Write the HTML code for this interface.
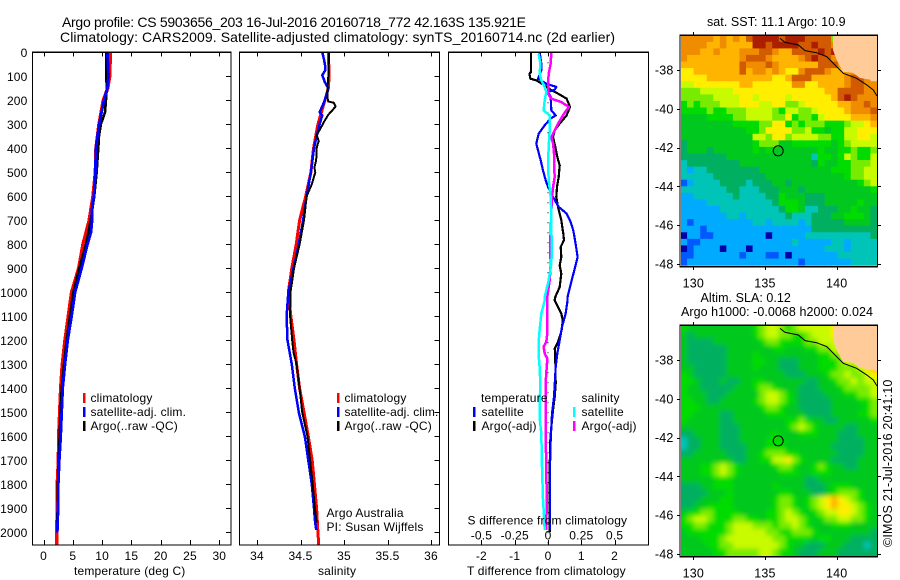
<!DOCTYPE html>
<html lang="en">
<head>
<meta charset="utf-8">
<title>Argo profile CS 5903656_203</title>
<style>
html,body{margin:0;padding:0;background:#fff;width:900px;height:580px;overflow:hidden}
svg{display:block;position:absolute;left:0;top:0}
text{font-family:"Liberation Sans",sans-serif;font-size:12px;fill:#000;letter-spacing:.18px}
.title{font-size:14px;letter-spacing:0}
.maptitle{font-size:12.5px;letter-spacing:.05px}
.frame{fill:none;stroke:#000;stroke-width:1.3;shape-rendering:crispEdges}
.tick{stroke:#000;stroke-width:1;shape-rendering:crispEdges}
.curve{fill:none;shape-rendering:crispEdges;stroke-linejoin:round}
.leg{shape-rendering:crispEdges}
</style>
</head>
<body>
<svg id="fig" width="900" height="580" viewBox="0 0 900 580" xmlns="http://www.w3.org/2000/svg">
  <rect x="0" y="0" width="900" height="580" fill="#fff"/>
  <text class="title" x="62" y="27" textLength="464" lengthAdjust="spacing">Argo profile: CS 5903656_203 16-Jul-2016 20160718_772 42.163S 135.921E</text>
  <text class="title" x="60" y="42" textLength="555" lengthAdjust="spacing">Climatology: CARS2009. Satellite-adjusted climatology: synTS_20160714.nc (2d earlier)</text>

  <g id="p1"></g>
  <g id="p2"></g>
  <g id="p3"></g>

  <text x="74" y="575">temperature (deg C)</text>
  <text x="318" y="575">salinity</text>
  <text x="467" y="575">T difference from climatology</text>
  <text x="467.5" y="524.5">S difference from climatology</text>

  <rect class="leg" x="83" y="393" width="2.5" height="10" fill="#f00"/>
  <text x="90.5" y="402">climatology</text>
  <rect class="leg" x="83" y="407" width="2.5" height="10" fill="#00f"/>
  <text x="90.5" y="416">satellite-adj. clim.</text>
  <rect class="leg" x="83" y="421" width="2.5" height="10" fill="#000"/>
  <text x="90.5" y="430">Argo(..raw -QC)</text>

  <rect class="leg" x="337" y="393" width="2.5" height="10" fill="#f00"/>
  <text x="344.5" y="402">climatology</text>
  <rect class="leg" x="337" y="407" width="2.5" height="10" fill="#00f"/>
  <text x="344.5" y="416" textLength="94" lengthAdjust="spacing">satellite-adj. clim.</text>
  <rect class="leg" x="337" y="421" width="2.5" height="10" fill="#000"/>
  <text x="344.5" y="430">Argo(..raw -QC)</text>

  <text x="326.5" y="517">Argo Australia</text>
  <text x="326.5" y="531">PI: Susan Wijffels</text>

  <text x="481" y="402">temperature</text>
  <rect class="leg" x="473" y="407" width="2.5" height="10" fill="#00f"/>
  <text x="481.5" y="416">satellite</text>
  <rect class="leg" x="473" y="421" width="2.5" height="10" fill="#000"/>
  <text x="481.5" y="430">Argo(-adj)</text>
  <text x="581.5" y="402">salinity</text>
  <rect class="leg" x="573" y="407" width="2.5" height="10" fill="#0ff"/>
  <text x="581.5" y="416">satellite</text>
  <rect class="leg" x="573" y="421" width="2.5" height="10" fill="#f0f"/>
  <text x="581.5" y="430">Argo(-adj)</text>

  <text class="maptitle" x="707" y="26">sat. SST: 11.1 Argo: 10.9</text>
  <text class="maptitle" x="700.5" y="302">Altim. SLA: 0.12</text>
  <text class="maptitle" x="681" y="316">Argo h1000: -0.0068 h2000: 0.024</text>

  <defs>
    <clipPath id="clipA"><rect x="681" y="36" width="196" height="230"/></clipPath>
    <clipPath id="clipB"><rect x="681" y="326" width="196" height="230"/></clipPath>
    <filter id="soft" x="-5%" y="-5%" width="110%" height="110%"><feGaussianBlur stdDeviation="2.4"/></filter>
  </defs>
  <g id="mapA"></g>
  <g id="mapB"></g>

  <text transform="translate(892,547) rotate(-90)" style="font-size:12.5px">©IMOS 21-Jul-2016 20:41:10</text>
</svg>
<script>
// ---------- profile data ----------
const depthTicks = [0,100,200,300,400,500,600,700,800,900,1000,1100,1200,1300,1400,1500,1600,1700,1800,1900,2000];
const tempTicks = [0,5,10,15,20,25,30];
const salTicks = [34,34.5,35,35.5,36];
const salTickLabels = ['34','34.5','35','35.5','36'];
const diffTicks = [-2,-1,0,1,2];
const diffTickLabels = ['-2','-1','0','1','2'];
const sDiffLabels = ['-0.5','-0.25','0','0.25','0.5'];

const tempClimDepth = [0,100,150,200,300,400,500,600,700,800,900,1000,1100,1200,1300,1400,1500,1600,1700,1800,1900,2000,2054];
const tempClim = [11.4,11.3,10.95,10.2,9.47,8.96,8.85,8.45,7.8,6.74,6.0,4.8,4.24,3.67,3.2,2.93,2.76,2.6,2.55,2.36,2.35,2.25,2.3];
const tempSatDepth = [0,100,150,200,300,350,400,500,600,650,700,750,800,900,1000,1100,1200,1300,1400,1500,1600,1700,1800,1900,2000];
const tempSat = [10.9,11.1,10.9,10.3,9.5,9.2,8.95,8.85,8.6,8.3,8.3,8.1,7.5,6.5,5.4,4.8,4.13,3.67,3.27,3.1,2.93,2.7,2.53,2.5,2.36];
const tempArgoDepth = [0,100,150,200,250,300,350,400,500,600,700,800,900,1000,1100,1200,1300,1400,1500,1600,1700,1800,1900,1960];
const tempArgo = [10.7,10.7,10.8,10.67,10.5,9.8,9.47,9.35,9.07,8.67,8.05,7.25,6.1,5.08,4.5,3.95,3.5,3.1,2.9,2.75,2.6,2.45,2.4,2.35];

const salClimDepth = [0,100,150,200,300,400,500,600,700,800,900,1000,1100,1200,1300,1400,1500,1600,1700,1800,1900,2000,2054];
const salClim = [34.82,34.83,34.82,34.78,34.70,34.65,34.62,34.56,34.49,34.45,34.40,34.36,34.39,34.425,34.455,34.49,34.54,34.59,34.635,34.66,34.685,34.70,34.71];
const salSatDepth = [0,30,60,75,95,125,150,200,250,262,300,350,400,500,600,700,800,900,1000,1100,1200,1300,1400,1500,1600,1700,1800,1900,1950,1990];
const salSat = [34.75,34.77,34.785,34.785,34.75,34.78,34.82,34.78,34.72,34.75,34.72,34.685,34.655,34.62,34.57,34.53,34.48,34.42,34.36,34.34,34.35,34.40,34.435,34.48,34.55,34.59,34.63,34.655,34.665,34.68];
const salArgoDepth = [0,100,150,190,205,210,225,240,260,290,320,345,370,380,400,450,480,500,550,600,700,800,900,1000,1100,1200,1250,1300,1400,1500,1600,1700,1800,1900,1960];
const salArgo = [34.83,34.82,34.81,34.81,34.82,34.88,34.905,34.87,34.82,34.77,34.725,34.685,34.71,34.70,34.685,34.68,34.66,34.67,34.63,34.57,34.54,34.49,34.425,34.385,34.38,34.405,34.42,34.455,34.49,34.52,34.58,34.61,34.64,34.665,34.685];

const dTArgoDepth = [0,82,89,110,117,138,158,172,193,228,263,297,325,353,394,436,471,519,561,603,644,700,756,783,811,853,888,922,978,1019,1033,1061,1089,1116,1151,1172,1207,1234,1255,1283,1380,1436,1491,1561,1616,1727,1866,1998];
const dTArgo = [-0.51,-0.51,-0.56,-0.53,-0.35,-0.10,0.10,0.30,0.56,0.66,0.56,0.35,0.20,0.15,0.22,0.28,0.35,0.32,0.27,0.25,0.30,0.40,0.46,0.48,0.38,0.40,0.35,0.40,0.35,0.22,0.20,0.30,0.40,0.44,0.42,0.38,0.30,0.20,0.22,0.22,0.23,0.20,0.15,0.10,0.07,0.05,0.05,0.05];
const dTSatDepth = [0,47,75,110,131,144,156,165,186,242,263,276,304,339,381,408,450,492,533,561,603,644,672,700,742,797,853,908,978,1019,1033,1089,1144,1200,1255,1311,1436,1505,1616,1727,1991];
const dTSat = [-0.25,-0.20,-0.20,-0.30,-0.05,0.25,0.20,0,0.08,0.10,0.23,0.08,-0.10,-0.28,-0.35,-0.30,-0.22,-0.15,-0.07,0,0.15,0.32,0.56,0.66,0.76,0.83,0.89,0.79,0.66,0.59,0.59,0.53,0.42,0.35,0.28,0.23,0.18,0.12,0.08,0.06,0.06];
const dSSatDepth = [6,47,89,117,138,165,200,242,263,325,394,464,533,603,672,742,811,881,950,1019,1033,1089,1158,1214,1255,1311,1394,1450,1519,1589,1727,1852,1991];
const dSSat = [-0.071,-0.056,-0.063,-0.05,-0.03,-0.013,-0.025,-0.033,0.013,0.013,0.005,0,0.005,0.02,0.025,0.025,0.03,0.025,0.005,-0.025,-0.025,-0.05,-0.063,-0.071,-0.071,-0.063,-0.056,-0.063,-0.063,-0.05,-0.045,-0.038,-0.025];
const dSArgoDepth = [0,47,89,131,172,193,207,228,256,297,353,381,422,464,519,561,603,672,742,811,881,950,1019,1033,1102,1172,1207,1227,1255,1276,1380,1477,1589,1727,1866,1991];
const dSArgo = [0.025,0.02,0.005,0,0,0.025,0.10,0.157,0.12,0.076,0.025,0.038,0.045,0.045,0.05,0.038,0.03,0.025,0.02,0.015,0.02,0.013,-0.005,-0.005,-0.005,-0.005,-0.013,-0.033,-0.025,-0.005,-0.018,-0.018,-0.018,-0.013,-0.01,-0.013];

// ---------- map data ----------
const lonTicks = [130,135,140];
const latTicks = [-38,-40,-42,-44,-46,-48];
const coastLon = [136.05,136.39,137.32,137.79,138.6,139.3,139.88,140.46,141.39,142.09,142.55,142.81];
const coastLat = [-36.37,-36.57,-36.71,-37.0,-37.11,-37.31,-37.74,-38.17,-38.43,-38.77,-39.03,-39.34];
const landLon = [139.74,139.74,140.0,140.43,141.14,141.63,142.53,142.85,142.85];
const landLat = [-36.21,-36.97,-37.48,-38.09,-38.15,-38.41,-38.52,-38.6,-36.21];
const argoLon = 135.921;
const argoLat = -42.163;
const sstRows = [
"lllllklklkmnnnnmnnnmmmmhxxxxxx",
"llllkklkkkknnmnnnnmmnmmlgxxxxx",
"lllkklkkklllmmlkkmmmmnmnmlxxxx",
"lkkkkkkkklmmmlkkkklmnmmlllkxxx",
"kkkkkkkkkmlllmlkkkkkkmmmlllkxx",
"jjkkkkkkkmkllklkjjlmmmlkkllmxx",
"jjjjkkkkkkkkkkjjkmmmkkkkklmmlx",
"iijjjjjjjkkjjjjjjlljjkkkklmmll",
"hhhiiiiijjjjjjjjjjjjjjkkmmmmll",
"hhhhhiiiijjijjjjijjjjjjkmnmlll",
"ghghhhiiijjjiijjhhijjjjjkkllml",
"gggghgghhhiiiihgiihhijjjjklllm",
"ffffgggghhiiiihhjghhgijjjjkkkl",
"ffffffffgggghhjjghghhhggghiijk",
"ffffffffffgghjjjjhhiggfggiijjj",
"fffffffffffiihjjhiiiihhggiijji",
"effffffffffghhhffggggggfghiiii",
"efffeffffffgfgfffffffgffgghggh",
"eeeeeeefffffffffffffdggfgihggi",
"deeeeeeeefffffffffffegffgghhhi",
"dcddeeeeeeeefffffffffffggghhii",
"dddddeeeeeeeeffffffffffffghhii",
"bcddddeeeedeeeffeffffffffffghi",
"dddddddeedddeeefffeffffffffffg",
"ccddddddeddddeegfffeeeffffffff",
"ccccddddddddddegggfeeefffffgff",
"ccccccdddddddddeggfddeeeffgffe",
"cccccccddcddddddedddeeeffgggfe",
"cbcccccccccddcddddcdeeeeeffffe",
"cccbcccccccccccccccceeeeeeeeee",
"accbbccccccccacccccdddddddddde",
"cbbccccccccccccccdcccccddcdddd",
"abccccacccacccccccccccdddcdddd",
"bbcccccccbcccbbcacccccccdddddd",
"bcccccccccccccccccbcccccccdddd"
];
const slaRows = [
"gffffffffffghiihghiiiiijkkkkkk",
"fefffffffffghiihhgghiiijjkkkkk",
"feeeefffffffghhgggghhiiijkkkkk",
"feeeeeefffffffggfffgghhiijkkkk",
"feeeeeeffffgfffffffffgghhiikkk",
"feeeeeeffffggffeeefffggghiijkk",
"ffeeeeeffffgfffeeefffggghhhijk",
"gfeeeeefffffffffeeefffghhihhij",
"ggfeeefeeffggffffffeeffghhihii",
"gffeeeeefffghhgfffeeefffghhhhi",
"gfffeeefffffhiihgfeeeefffgghhi",
"ggffeefffffghiihgfeeeeeffffggh",
"gggfffffffffghhgffeeeeefffffgh",
"ggffffeefffffgggfffeeeeffffggh",
"gfffffeeffffffffgghgffeefffffg",
"ffffffeeefffffffghihgffffeefff",
"eeffffeeefffffgfffgggfffeeefff",
"deefffeeeffffgggffffffffeeeeff",
"deefffeeeefffgggfffffffeeeeeff",
"eefffffeeeffghhhggffffffeeeeff",
"ffffffffeeffggiijhgffffeeeefff",
"fffgghihgfffffghhgffghgffeefff",
"fffgghihgffffffgggffgggfffffff",
"fffffgggfffffffffffeefffffffff",
"eeeffgggffffffgffffeeefgggffff",
"eeeefffgfffffffggfffeefghhhgff",
"eeefffggffffffghhgfghijkjihgff",
"eeffggggffffffghhgfghijkjjihgf",
"fgghhggggffffgghihgfghiijjihgf",
"ghiihggghhggfgghiihgfghhiihhgf",
"gghhggghiiihhhghhihgfffgggffff",
"fgggggghiiiiihhgghhhgffffffffe",
"fffggghiiiiiiihhggggfggfffeeee",
"ffffgghhiiiiiiihgffeeefffeeede",
"fffffgghhhhhiihggfeeefffeeeeee"
];
const colourKeys = "abcdefghijklmnx";
const colourValues = ["#0000a8","#0058ff","#00aaff","#00c4b8","#00b060","#00c81e","#00dc00","#78ec00","#c8fa00","#ffee00","#ffb400","#f08c00","#d25a00","#ac1e00","#ffcc99"];

// ---------- drawing ----------
const NS = 'http://www.w3.org/2000/svg';
function mk(parent, tag, props, txt){
  const el = document.createElementNS(NS, tag);
  for (const k in props) el.setAttribute(k, props[k]);
  if (txt !== undefined) el.textContent = txt;
  parent.appendChild(el);
  return el;
}
const depthY = d => 52.3 + 0.24 * d;
const tempX = v => 43.5 + 5.86 * v;
const salX = v => 257 + 87 * (v - 34);
const diffX = v => 548 + 33.3 * v;
const sDiffX = v => 548 + 133.2 * v;

function drawCurve(parent, xf, vals, depths, colour, width, name){
  const pts = vals.map((v,i) => xf(v).toFixed(1) + ',' + depthY(depths[i]).toFixed(1)).join(' ');
  const el = mk(parent, 'polyline', {class:'curve', points:pts, stroke:colour, 'stroke-width':width});
  
  
}
function drawPanel(parent, left, right, xf, ticks, labels, depthLabels, rightTicks){
  const top = 52.3, bottom = 545;
  ticks.forEach((t,i) => {
    const x = Math.round(xf(t)) + 0.5;
    const a = mk(parent, 'line', {class:'tick', x1:x, x2:x, y1:top, y2:top+4});
    
    
    const b = mk(parent, 'line', {class:'tick', x1:x, x2:x, y1:bottom-5, y2:bottom});
    
    
    const l = mk(parent, 'text', {x:xf(t), y:560, 'text-anchor':'middle'}, labels[i]);
    
    
  });
  depthTicks.forEach(d => {
    const y = Math.round(depthY(d)) + 0.5;
    if (rightTicks) {
      const t = mk(parent, 'line', {class:'tick', x1:right-5, x2:right, y1:y, y2:y});
      
      
    }
    if (depthLabels) {
      const l = mk(parent, 'text', {x:27.5, y:depthY(d)+4.5, 'text-anchor':'end'}, String(d));
      
      
    }
  });
}
function frame(parent, left, top, right, bottom){
  const f = mk(parent, 'rect', {class:'frame', x:left, y:top, width:right-left, height:bottom-top});
  
  
}

const p1 = document.getElementById('p1');
drawPanel(p1, 32.5, 231, tempX, tempTicks, tempTicks.map(String), true, true);
drawCurve(p1, tempX, tempClim, tempClimDepth, '#f00', 3.5, 'temperature-climatology-line');
drawCurve(p1, tempX, tempArgo, tempArgoDepth, '#000', 2.5, 'temperature-argo-line');
drawCurve(p1, tempX, tempSat, tempSatDepth, '#00f', 2.8, 'temperature-satellite-line');
frame(p1, 32.5, 52.3, 231, 545);

const p2 = document.getElementById('p2');
drawPanel(p2, 239.5, 439.5, salX, salTicks, salTickLabels, false, true);
drawCurve(p2, salX, salClim, salClimDepth, '#f00', 3, 'salinity-climatology-line');
drawCurve(p2, salX, salSat, salSatDepth, '#00f', 2.5, 'salinity-satellite-line');
drawCurve(p2, salX, salArgo, salArgoDepth, '#000', 2, 'salinity-argo-line');
frame(p2, 239.5, 52.3, 439.5, 545);

const p3 = document.getElementById('p3');
drawPanel(p3, 448.5, 648.5, diffX, diffTicks, diffTickLabels, false, false);
sDiffLabels.forEach((s,i) => {
  const l = mk(p3, 'text', {x:sDiffX(parseFloat(s)), y:539.5, 'text-anchor':'middle'}, s);
  
  
});
const zero = mk(p3, 'line', {x1:diffX(0), x2:diffX(0), y1:52.3, y2:545, stroke:'#000', 'stroke-width':1, 'stroke-dasharray':'1 9'});


drawCurve(p3, diffX, dTArgo, dTArgoDepth, '#000', 2.2, 't-difference-argo-line');
drawCurve(p3, diffX, dTSat, dTSatDepth, '#00f', 2.2, 't-difference-satellite-line');
drawCurve(p3, sDiffX, dSArgo, dSArgoDepth, '#f0f', 2.5, 's-difference-argo-line');
drawCurve(p3, sDiffX, dSSat, dSSatDepth, '#0ff', 2.5, 's-difference-satellite-line');
frame(p3, 448.5, 52.3, 648.5, 545);

function drawMap(group, rows, yOff, clipId, blur, cellName){
  const lonX = v => 693.3 + 14.34 * (v - 130);
  const latY = v => 70 + yOff + 19.4 * (-38 - v);
  const lon0 = 129.11, dLon = 0.4565, lat0 = -36.21, dLat = 0.3385;
  const cells = mk(group, 'g', {'clip-path':'url(#'+clipId+')'});
  const inner = mk(cells, 'g', blur ? {filter:'url(#soft)'} : {});
  const pad = blur ? 2 : 0;
  for (let r = -pad; r < rows.length + pad; r++) {
    const row = rows[Math.min(rows.length - 1, Math.max(0, r))];
    for (let c = -pad; c < row.length + pad; c++) {
      const key = row[Math.min(row.length - 1, Math.max(0, c))];
      const x0 = lonX(lon0 + c*dLon), x1 = lonX(lon0 + (c+1)*dLon);
      const y0 = latY(lat0 - r*dLat), y1 = latY(lat0 - (r+1)*dLat);
      const cell = mk(inner, 'rect', {x:x0.toFixed(2), y:y0.toFixed(2), width:(x1-x0+0.6).toFixed(2), height:(y1-y0+0.6).toFixed(2), fill:colourValues[colourKeys.indexOf(key)]});
      
      
    }
  }
  const land = mk(cells, 'polygon', {fill:'#ffcc99', points:landLon.map((v,i)=>lonX(v).toFixed(1)+','+latY(landLat[i]).toFixed(1)).join(' ')});
  
  
  const coast = mk(cells, 'polyline', {fill:'none', stroke:'#000', 'stroke-width':1, points:coastLon.map((v,i)=>lonX(v).toFixed(1)+','+latY(coastLat[i]).toFixed(1)).join(' ')});
  
  
  const marker = mk(group, 'circle', {cx:lonX(argoLon).toFixed(1), cy:latY(argoLat).toFixed(1), r:5, fill:'none', stroke:'#000', 'stroke-width':1});
  
  
  const top = 35.3 + yOff, bottom = 266.7 + yOff;
  frame(group, 680, top, 877.5, bottom);
  lonTicks.forEach(t => {
    const x = Math.round(lonX(t)) + 0.5;
    const a = mk(group, 'line', {class:'tick', x1:x, x2:x, y1:top-3.5, y2:top});
    
    
    const b = mk(group, 'line', {class:'tick', x1:x, x2:x, y1:bottom, y2:bottom+3.5});
    
    
    const l = mk(group, 'text', {x:lonX(t), y:bottom+21, 'text-anchor':'middle', style:'font-size:12.5px'}, String(t));
    
    
  });
  latTicks.forEach(t => {
    const y = Math.round(latY(t)) + 0.5;
    const a = mk(group, 'line', {class:'tick', x1:677, x2:680, y1:y, y2:y});
    
    
    const b = mk(group, 'line', {class:'tick', x1:877.5, x2:881, y1:y, y2:y});
    
    
    const l = mk(group, 'text', {x:673.5, y:latY(t)+4.5, 'text-anchor':'end', style:'font-size:12.5px'}, String(t));
    
    
  });
}
drawMap(document.getElementById('mapA'), sstRows, 0, 'clipA', false, 'sst-cell');
drawMap(document.getElementById('mapB'), slaRows, 290, 'clipB', true, 'sla-cell');
</script>
</body>
</html>
